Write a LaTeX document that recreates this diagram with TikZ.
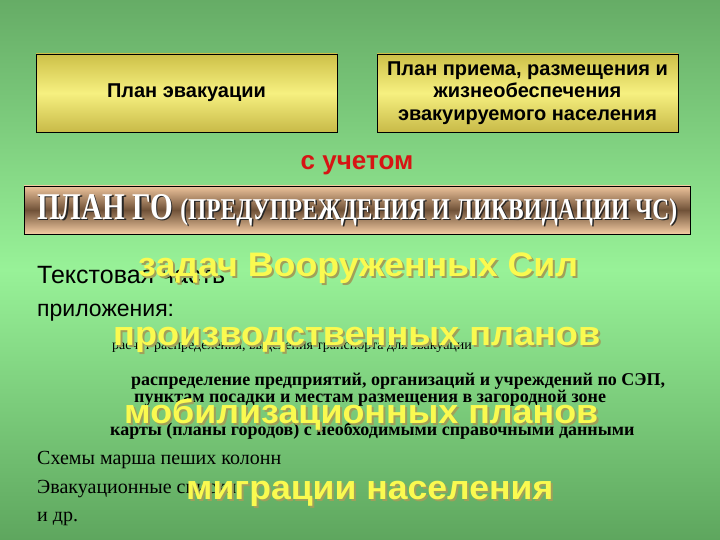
\documentclass[tikz,border=0pt]{standalone}
\usepackage{fontspec}
\setmainfont{Liberation Serif}
\setsansfont{Liberation Sans}
\begin{document}
\begin{tikzpicture}[x=1pt,y=-1pt,
  txt/.style={inner sep=0pt, anchor=west},
  sertxt/.style={txt, font=\fontsize{18}{18}\selectfont, text=black},
  bigy/.style={txt, font=\sffamily\bfseries\fontsize{34}{34}\selectfont, text=yellowtxt},
  bigs/.style={txt, font=\sffamily\bfseries\fontsize{34}{34}\selectfont, text=shadowtxt},
  ybox/.style={draw=black, line width=0.8pt, top color=ytop, bottom color=ybot, middle color=ymid, inner sep=0pt},
]
\definecolor{bgtop}{RGB}{102,172,102}
\definecolor{bgmid}{RGB}{152,242,152}
\definecolor{bgbot}{RGB}{94,166,94}
\definecolor{ytop}{RGB}{205,192,72}
\definecolor{ymid}{RGB}{246,240,128}
\definecolor{ybot}{RGB}{200,186,72}
\definecolor{ptop}{RGB}{238,196,156}
\definecolor{pmid}{RGB}{112,82,56}
\definecolor{pbot}{RGB}{244,204,164}
\definecolor{yellowtxt}{RGB}{250,250,80}
\definecolor{shadowtxt}{RGB}{160,160,90}
\definecolor{redtxt}{RGB}{215,20,20}
\useasboundingbox (0,0) rectangle (720,540);
% background
\shade[top color=bgtop, bottom color=bgmid] (0,0) rectangle (720,270);
\shade[top color=bgmid, bottom color=bgbot] (0,269.5) rectangle (720,540);

% top boxes
\node[ybox, minimum width=301pt, minimum height=78pt] (evac) at (186.5,93) {};
\node[font=\sffamily\bfseries\fontsize{20}{20}\selectfont, inner sep=0pt] (evacT) at (evac.center) {План эвакуации};
\node[ybox, minimum width=301pt, minimum height=78pt] (recv) at (527.5,93) {};
\node[font=\sffamily\bfseries\fontsize{20}{22.5}\selectfont, align=center, inner sep=0pt] (recvT) at (recv.center) {План приема, размещения и\\жизнеобеспечения\\эвакуируемого населения};

% with account
\node[font=\sffamily\bfseries\fontsize{26}{26}\selectfont, text=redtxt, inner sep=0pt] (uch) at (357,165) {с учетом};

% GO plan box
\node[draw=black, line width=0.8pt, top color=ptop, bottom color=pbot, middle color=pmid, minimum width=666pt, minimum height=48pt, inner sep=0pt] (go) at (357,210) {};
\node[inner sep=0pt, text=black!85] (goS) at (358.5,211.5) {\resizebox{640pt}{25pt}{\bfseries\fontsize{30}{30}\selectfont ПЛАН ГО {\fontsize{24}{24}\selectfont(ПРЕДУПРЕЖДЕНИЯ И ЛИКВИДАЦИИ ЧС)}}};
\node[inner sep=0pt, text=white] (goT) at (357,210) {\resizebox{640pt}{25pt}{\bfseries\fontsize{30}{30}\selectfont ПЛАН ГО {\fontsize{24}{24}\selectfont(ПРЕДУПРЕЖДЕНИЯ И ЛИКВИДАЦИИ ЧС)}}};

% body black texts
\node[txt, font=\sffamily\fontsize{25}{25}\selectfont] (t1) at (37,275) {Текстовая часть};
\node[txt, font=\sffamily\fontsize{23}{23}\selectfont] (t2) at (37,313) {приложения:};
\node[sertxt, font=\fontsize{14}{14}\selectfont] (t3) at (112,348) {расчет распределения, выделения транспорта для эвакуации};
\node[sertxt, font=\bfseries\fontsize{18}{18}\selectfont] (t4) at (131,381) {распределение предприятий, организаций и учреждений по СЭП,};
\node[sertxt, font=\bfseries\fontsize{18}{18}\selectfont] (t5) at (134,398) {пунктам посадки и местам размещения в загородной зоне};
\node[sertxt, font=\bfseries\fontsize{18}{18}\selectfont] (t6) at (110,431) {карты (планы городов) с необходимыми справочными данными};
\node[sertxt, font=\fontsize{20}{20}\selectfont] (t7) at (37,460) {Схемы марша пеших колонн};
\node[sertxt, font=\fontsize{20}{20}\selectfont] (t8) at (37,489) {Эвакуационные списки};
\node[sertxt, font=\fontsize{20}{20}\selectfont] (t9) at (37,519) {и др.};

% big yellow overlays
\node[bigs] (y1s) at (140,270) {\resizebox{440pt}{\height}{задач Вооруженных Сил}};
\node[bigy] (y1) at (138,268) {\resizebox{440pt}{\height}{задач Вооруженных Сил}};
\node[bigs] (y2s) at (115,342) {\resizebox{487pt}{\height}{производственных планов}};
\node[bigy] (y2) at (113,340) {\resizebox{487pt}{\height}{производственных планов}};
\node[bigs] (y3s) at (126,416) {\resizebox{474pt}{\height}{мобилизационных планов}};
\node[bigy] (y3) at (124,414) {\resizebox{474pt}{\height}{мобилизационных планов}};
\node[bigs] (y4s) at (188,496) {\resizebox{367pt}{\height}{миграции населения}};
\node[bigy] (y4) at (186,494) {\resizebox{367pt}{\height}{миграции населения}};
\end{tikzpicture}
\end{document}
